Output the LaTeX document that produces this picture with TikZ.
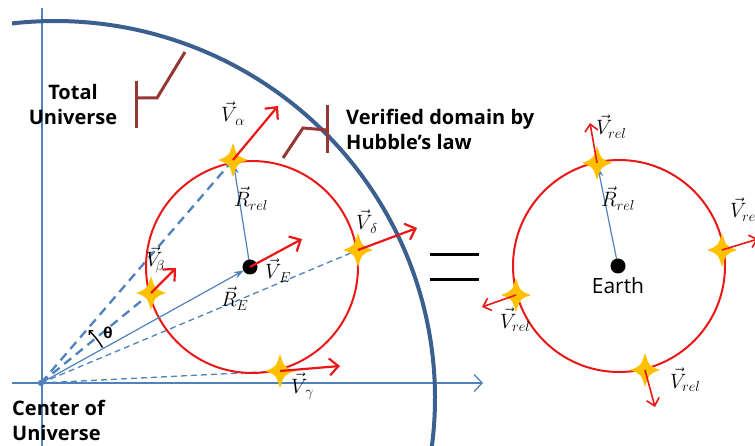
\documentclass[tikz,border=0pt]{standalone}
\usepackage{fontspec}
\setmainfont{Open Sans}
\usetikzlibrary{arrows.meta}
\definecolor{axisblue}{RGB}{79,129,189}
\definecolor{arcblue}{RGB}{59,95,142}
\definecolor{vred}{RGB}{235,22,22}
\definecolor{brbrown}{RGB}{149,55,53}
\definecolor{staryel}{RGB}{255,192,0}
\tikzset{
  axisline/.style={draw=axisblue, line width=1.3pt},
  bigarc/.style={draw=arcblue, line width=4pt},
  redcirc/.style={draw=vred, line width=2pt},
  vel/.style={draw=vred, line width=2.2pt, -{Straight Barb[length=9pt,width=17pt]}},
  velsm/.style={draw=vred, line width=1.6pt, -{Straight Barb[length=7pt,width=13pt]}},
  posvec/.style={draw=axisblue, line width=1.2pt, -{Stealth[length=10pt,width=7pt]}},
  dashthick/.style={draw=axisblue, line width=2.3pt, dash pattern=on 9pt off 6pt},
  dashthin/.style={draw=axisblue, line width=1.3pt, dash pattern=on 6pt off 4pt},
  bracketline/.style={draw=brbrown, line width=3pt},
  boldlbl/.style={font=\bfseries\fontsize{20}{25}\selectfont, inner sep=0pt},
  mathlbl/.style={font=\fontsize{22}{22}\selectfont, inner sep=0pt, anchor=base west},
  star4/.pic={\fill[staryel] (0,17) .. controls (4,4) .. (15,0) .. controls (4,-4) .. (0,-17) .. controls (-4,-4) .. (-15,0) .. controls (-4,4) .. cycle;}
}
\begin{document}
\begin{tikzpicture}[x=1pt,y=1pt]
\useasboundingbox (0,0) rectangle (755,-446);
% key points
\coordinate (O) at (41,-383);
\coordinate (Eleft) at (250,-267);
\coordinate (Cleft) at (252,-267);
\coordinate (Sa) at (233,-160);
\coordinate (Sb) at (151,-293);
\coordinate (Sg) at (280,-371);
\coordinate (Sd) at (358,-250);
\coordinate (Ta) at (278,-106);
\coordinate (Tb) at (176,-268);
\coordinate (TE) at (302,-239);
\coordinate (Td) at (417,-228);
\coordinate (Tg) at (340,-366);
\coordinate (Eright) at (618,-266);
\coordinate (Cright) at (619,-266);
\coordinate (Rt) at (597,-163);
\coordinate (Rr) at (722,-250);
\coordinate (Rl) at (516,-295);
\coordinate (Rb) at (645,-370);
\coordinate (Ut) at (590,-123);
\coordinate (Ur) at (758,-239);
\coordinate (Ul) at (482,-307);
\coordinate (Ub) at (655,-407);
\coordinate (Vtop) at (42,-8);
\coordinate (Vbot) at (42,-450);
\coordinate (Hl) at (12,-383);
\coordinate (Hr) at (483,-383);
% axes
\draw[axisline] (Vtop) -- (Vbot);
\draw[axisline, -{Straight Barb[length=8pt,width=17pt]}] (Hl) -- (Hr);
% big arc of total universe
\draw[bigarc] (55,-398) ++(96.5:380pt and 377pt) arc[start angle=96.5, end angle=-10, x radius=380pt, y radius=377pt];
% dashed lines from center
\draw[dashthick] (O) -- (Sa);
\draw[dashthick] (O) -- (Sb);
\draw[dashthin] (O) -- (Sd);
\draw[dashthin] (O) -- (Sg);
% circles
\draw[redcirc] (Cleft) circle[radius=106pt];
\draw[redcirc] (Cright) circle[radius=106pt];
% position vectors
\draw[posvec, shorten >=7pt] (O) -- (Eleft);
\draw[posvec, shorten >=4pt] (Eleft) -- (Sa);
\draw[posvec, shorten >=4pt] (Eright) -- (Rt);
\fill[axisblue] (O) circle[radius=3.2pt];
% theta arc
\draw[black, line width=1.4pt, -{Straight Barb[length=3pt,width=6pt]}] (O) ++(30:71pt) arc[start angle=30, end angle=48, radius=71pt];
\node[font=\bfseries\fontsize{15}{15}\selectfont, inner sep=0pt] (theta) at (108,-333) {θ};
% stars
\foreach \s in {Sa,Sb,Sg,Sd,Rt,Rr,Rl,Rb} \pic at (\s) {star4};
% earth dots
\fill[black] (Eleft) circle[radius=7.5pt];
\fill[black] (Eright) circle[radius=7.5pt];
% velocity arrows
\draw[vel] (Sa) -- (Ta);
\draw[vel] (Sb) -- (Tb);
\draw[vel] (Eleft) -- (TE);
\draw[vel] (Sd) -- (Td);
\draw[vel] (Sg) -- (Tg);
\draw[velsm] (Rt) -- (Ut);
\draw[velsm] (Rr) -- (Ur);
\draw[velsm] (Rl) -- (Ul);
\draw[velsm] (Rb) -- (Ub);
% equals sign
\draw[black, line width=3pt] (430,-255) -- (479,-255);
\draw[black, line width=3pt] (430,-280) -- (479,-280);
% brackets
\coordinate (b1a) at (136,-81);
\coordinate (b1b) at (136,-128);
\coordinate (b1c) at (136,-98);
\coordinate (b1d) at (157,-98);
\coordinate (b1e) at (185,-52);
\draw[bracketline] (b1a) -- (b1b);
\draw[bracketline] (b1c) -- (b1d) -- (b1e);
\coordinate (b2a) at (327,-105);
\coordinate (b2b) at (327,-153);
\coordinate (b2c) at (327,-130);
\coordinate (b2d) at (303,-128);
\coordinate (b2e) at (283,-158);
\draw[bracketline] (b2a) -- (b2b);
\draw[bracketline] (b2c) -- (b2d) -- (b2e);
% text labels (base anchor = last line baseline)
\node[boldlbl, align=center, anchor=base] (total) at (73,-125) {Total\\Universe};
\node[boldlbl, align=left, anchor=base west] (verified) at (346,-150) {Verified domain by\\Hubble's law};
\node[boldlbl, align=left, anchor=base west] (center) at (12,-440) {Center of\\Universe};
\node[font=\fontsize{21}{21}\selectfont, inner sep=0pt, anchor=base] (earth) at (618,-294) {Earth};
% math labels
\node[mathlbl] (la) at (221,-122) {$\vec{V}_{\,\alpha}$};
\node[mathlbl] (lrr) at (234,-207) {$\vec{R}_{rel}$};
\node[mathlbl] (lb) at (146,-267) {$\vec{V}_{\!\beta}$};
\node[mathlbl] (le) at (265,-279) {$\vec{V}_{\,E}$};
\node[mathlbl] (lre) at (221,-307) {$\vec{R}_{E}$};
\node[mathlbl] (ld) at (356,-230) {$\vec{V}_{\,\delta}$};
\node[mathlbl] (lg) at (291,-393) {$\vec{V}_{\,\gamma}$};
\node[mathlbl] (lt) at (596,-135) {$\vec{V}_{rel}$};
\node[mathlbl] (lr2) at (601,-207) {$\vec{R}_{rel}$};
\node[mathlbl] (lrt) at (730,-218) {$\vec{V}_{rel}$};
\node[mathlbl] (lrl) at (500,-328) {$\vec{V}_{rel}$};
\node[mathlbl] (lrb) at (670,-388) {$\vec{V}_{rel}$};
\end{tikzpicture}
\end{document}
